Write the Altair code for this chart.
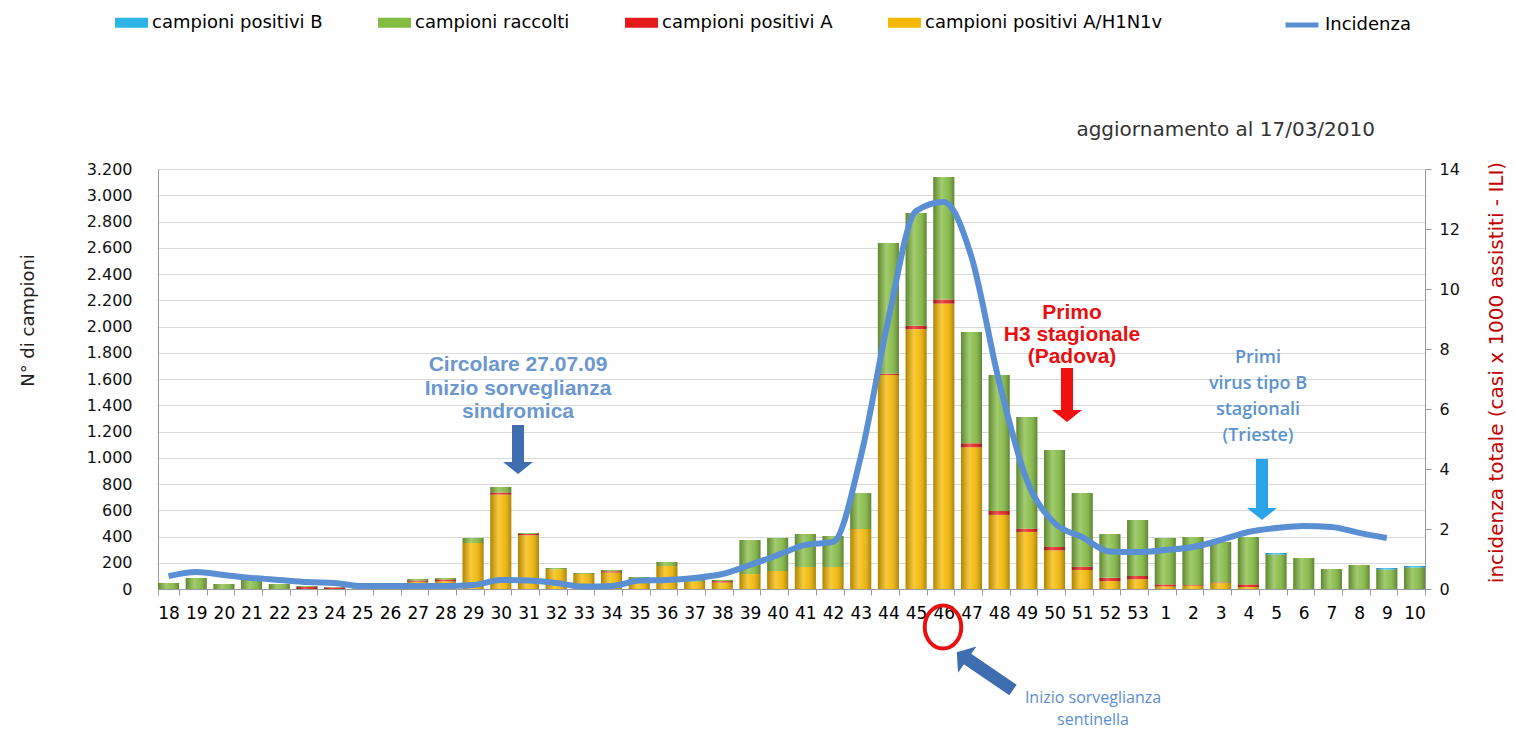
import altair as alt
import pandas as pd

# ---------------- data ----------------
settimane = [str(w) for w in list(range(18, 54)) + list(range(1, 11))]

campioni_raccolti = [46, 84, 38, 69, 38, 23, 15, 5, 8, 76,
                     84, 389, 777, 427, 160, 122, 145, 91, 206, 69,
                     69, 373, 389, 419, 404, 731, 2636, 2865, 3139, 1958,
                     1630, 1310, 1059, 731, 419, 526,
                     389, 396, 358, 396, 274, 236, 152, 183, 160, 175]

positivi_h1n1v = [0, 0, 0, 0, 0, 0, 0, 0, 0,
                  55, 60, 350, 720, 410, 150, 115, 125, 50, 175,
                  55, 50, 114, 137, 168, 168, 457, 1630, 1980, 2175,
                  1080, 565, 435, 295, 145, 60, 75,
                  20, 25, 45, 15, 0, 0, 0, 0, 0, 0]

positivi_a = [0, 0, 0, 0, 0, 15, 12, 0, 0, 10, 12, 0, 15, 10, 0, 0, 10, 0, 0, 0, 10,
              0, 0, 0, 0, 0, 10, 25, 30, 30, 30, 25, 25, 25, 25, 25,
              15, 5, 5, 20, 0, 0, 0, 0, 0, 0]

positivi_b = [0] * 40 + [12, 0, 0, 0, 12, 12]

incidenza = [0.43, 0.57, 0.47, 0.37, 0.30, 0.23, 0.20, 0.10, 0.10, 0.10,
             0.10, 0.13, 0.30, 0.28, 0.20, 0.08, 0.10, 0.28, 0.30, 0.37,
             0.50, 0.80, 1.13, 1.47, 1.57, 4.40, 9.00, 12.60, 12.90, 11.07,
             6.90, 3.63, 2.20, 1.73, 1.25, 1.23,
             1.30, 1.40, 1.63, 1.90, 2.03, 2.10, 2.07, 1.87, 1.70, None]

serie_legenda = ["campioni positivi B", "campioni raccolti",
                 "campioni positivi A", "campioni positivi A/H1N1v"]
colori_serie = ["#2db5e6", "#84bb42", "#e31b1b", "#f4b800"]

# ---------------- tables ----------------
rows = []
for i, w in enumerate(settimane):
    verde = max(0, campioni_raccolti[i] - positivi_h1n1v[i] - positivi_a[i] - positivi_b[i])
    rows.append({"settimana": w, "serie": "campioni positivi A/H1N1v", "valore": positivi_h1n1v[i], "ord": 0})
    rows.append({"settimana": w, "serie": "campioni positivi A", "valore": positivi_a[i], "ord": 1})
    rows.append({"settimana": w, "serie": "campioni raccolti", "valore": verde, "ord": 2})
    rows.append({"settimana": w, "serie": "campioni positivi B", "valore": positivi_b[i], "ord": 3})
df_long = pd.DataFrame(rows)

df_tot = pd.DataFrame({"settimana": settimane, "totale": campioni_raccolti})
df_line = pd.DataFrame({"settimana": settimane, "incidenza": incidenza, "serie": "Incidenza"}).dropna()

W, H = 1267, 420
FONT = "DejaVu Sans"

x_scale = alt.Scale(domain=settimane, paddingInner=0.24, paddingOuter=0.0)

bars = alt.Chart(df_long).mark_bar().encode(
    x=alt.X("settimana:N", scale=x_scale,
            axis=alt.Axis(title=None, labelAngle=0, labelFont=FONT, labelFontSize=17,
                          labelColor="#000", tickBand="extent", tickSize=6,
                          tickColor="#9a9a9a", domainColor="#9a9a9a", labelPadding=10,
                          labelOverlap=False, grid=False, orient="bottom")),
    y=alt.Y("valore:Q", stack="zero",
            scale=alt.Scale(domain=[0, 3200], nice=False),
            axis=alt.Axis(values=list(range(0, 3201, 200)),
                          labelExpr="replace(format(datum.value, ','), ',', '.')",
                          title="N° di campioni", titleX=-130, titleY=151, titleAngle=270,
                          titleAlign="center", titleBaseline="middle", titleFont=FONT,
                          titleFontSize=18, titleFontWeight="normal", titleColor="#222",
                          labelFont=FONT, labelFontSize=16, labelColor="#111",
                          labelPadding=26, tickSize=0, domainColor="#9a9a9a",
                          grid=True, gridColor="#d9d9d9")),
    color=alt.Color("serie:N", scale=alt.Scale(domain=serie_legenda, range=colori_serie),
                    legend=alt.Legend(orient="none", legendX=-43, legendY=-163,
                                      direction="horizontal", title=None,
                                      symbolType="M-1,-0.3H1V0.3H-1Z", symbolSize=1089,
                                      symbolStrokeWidth=0, symbolOpacity=1,
                                      labelFont=FONT, labelFontSize=18, labelColor="#000",
                                      labelLimit=400, columnPadding=55, labelOffset=4)),
    order=alt.Order("ord:Q", sort="ascending"),
)

shade = alt.Gradient(
    gradient="linear", x1=0, x2=1, y1=0, y2=0,
    stops=[alt.GradientStop(color="rgba(0,0,0,0.28)", offset=0),
           alt.GradientStop(color="rgba(255,255,255,0.25)", offset=0.4),
           alt.GradientStop(color="rgba(255,255,255,0.10)", offset=0.6),
           alt.GradientStop(color="rgba(0,0,0,0.30)", offset=1)])

overlay = alt.Chart(df_tot).mark_bar(color=shade).encode(
    x=alt.X("settimana:N", scale=alt.Scale(domain=settimane)),
    y=alt.Y("totale:Q", scale=alt.Scale(domain=[0, 3200], nice=False), axis=None),
)

line = alt.Chart(df_line).mark_line(strokeWidth=6, interpolate="monotone").encode(
    x=alt.X("settimana:N", scale=alt.Scale(domain=settimane), bandPosition=0.5),
    y=alt.Y("incidenza:Q", scale=alt.Scale(domain=[0, 14], nice=False),
            axis=alt.Axis(orient="right", values=list(range(0, 15, 2)),
                          title="incidenza totale (casi x 1000 assistiti - ILI)",
                          titleX=71, titleY=203, titleAngle=270, titleAlign="center",
                          titleBaseline="middle", titleColor="#c40000", titleFont=FONT,
                          titleFontSize=20, titleFontWeight="normal",
                          labelFont=FONT, labelFontSize=16, labelColor="#111",
                          labelPadding=8, tickSize=6, tickColor="#9a9a9a",
                          domainColor="#9a9a9a", grid=False)),
    stroke=alt.Stroke("serie:N", scale=alt.Scale(domain=["Incidenza"], range=["#5b8fd4"]),
                      legend=alt.Legend(orient="none", legendX=1125, legendY=-163,
                                        title=None, symbolType="stroke", symbolSize=1089,
                                        symbolStrokeWidth=5, labelFont=FONT,
                                        labelFontSize=18, labelColor="#000", labelOffset=4)),
)

# ---------------- annotations ----------------
one = pd.DataFrame({"k": [0]})


def testo(lines, x, y, color, size, weight, font, lh, align="center"):
    # y = centre of the first line
    return alt.Chart(one).mark_text(text=lines, font=font, fontSize=size, fontWeight=weight,
                                    color=color, align=align, baseline="middle",
                                    lineHeight=lh).encode(x=alt.value(x), y=alt.value(y))


HEAD = "M-1,-0.4L1,-0.4L0,0.4Z"


def freccia_giu(x, y1, y2, yh, color):
    s = alt.Chart(one).mark_rule(color=color, strokeWidth=12, strokeCap="butt").encode(
        x=alt.value(x), y=alt.value(y1), y2=alt.value(y2))
    h = alt.Chart(one).mark_point(shape=HEAD, size=900, filled=True, color=color,
                                  opacity=1, strokeWidth=0).encode(
        x=alt.value(x), y=alt.value(yh))
    return [s, h]


ann = []
ann.append(testo(["Circolare 27.07.09", "Inizio sorveglianza", "sindromica"],
                 360, 196, "#6b97cf", 21, "bold", "Liberation Sans", 23.5))
ann += freccia_giu(360, 256, 293, 299, "#3f6eb0")

ann.append(testo(["Primo", "H3 stagionale", "(Padova)"],
                 914, 144, "#e81010", 21, "bold", "Liberation Sans", 22))
ann += freccia_giu(909, 199, 241, 247, "#f01010")

ann.append(testo(["Primi", "virus tipo B", "stagionali", "(Trieste)"],
                 1100, 189, "#5b93cf", 18, 600, "Open Sans", 26))
ann += freccia_giu(1104, 290, 339, 345, "#2aa3e8")

ann.append(testo(["aggiornamento al 17/03/2010"], 1217, -39, "#333333", 20, "normal",
                 FONT, 22, align="right"))

ann.append(alt.Chart(one).mark_point(
    shape="M-0.85,0A0.85,1,0,1,0,0.85,0A0.85,1,0,1,0,-0.85,0Z", size=1849, filled=False,
    color="#e81010", strokeWidth=4, opacity=1).encode(x=alt.value(785), y=alt.value(458)))

ann.append(alt.Chart(one).mark_rule(color="#3f6eb0", strokeWidth=13, strokeCap="butt").encode(
    x=alt.value(855), x2=alt.value(808), y=alt.value(521), y2=alt.value(489)))
ann.append(alt.Chart(one).mark_point(shape=HEAD, size=1024, filled=True, color="#3f6eb0",
                                     opacity=1, strokeWidth=0, angle=125).encode(
    x=alt.value(804), y=alt.value(487)))

ann.append(testo(["Inizio sorveglianza", "sentinella"], 935, 529, "#5b8fd0", 16, "normal",
                 "Open Sans", 22))

chart = alt.layer(bars, overlay, line, *ann).resolve_scale(y="independent").properties(
    width=W, height=H,
    autosize=alt.AutoSizeParams(type="none"),
    padding={"left": 150, "top": 161, "right": 82, "bottom": 143},
).configure_view(stroke=None)

chart.save("out.html", embed_options={"renderer": "svg", "actions": False})
